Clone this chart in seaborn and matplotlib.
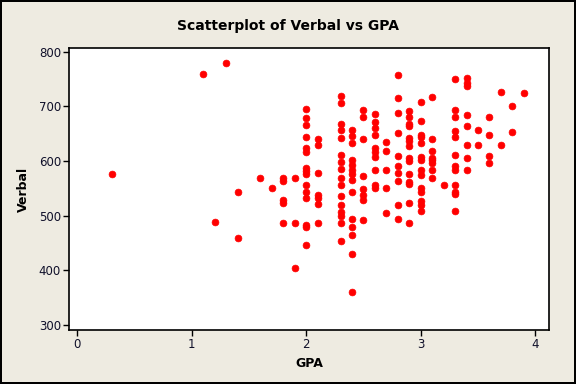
import matplotlib
matplotlib.use("Agg")
import matplotlib.pyplot as plt
import seaborn as sns
import pandas as pd

# GPA values, one list entry per student, grouped by GPA column
gpa = ([0.3, 1.1, 1.2, 1.3, 1.4, 1.4, 1.6, 1.7]
       + [1.8] * 5 + [1.9] * 3 + [2.0] * 15 + [2.1] * 7 + [2.3] * 16
       + [2.4] * 14 + [2.5] * 8 + [2.6] * 10 + [2.7] * 5 + [2.8] * 10
       + [2.9] * 14 + [3.0] * 14 + [3.1] * 8 + [3.2] + [3.3] * 12
       + [3.4] * 8 + [3.5] * 2 + [3.6] * 4 + [3.7] * 2 + [3.8] * 2 + [3.9])

verbal = ([576, 759, 488, 779, 544, 459, 569, 550]
          + [569, 564, 529, 524, 486]
          + [569, 486, 404]
          + [695, 678, 666, 643, 623, 616, 587, 582, 576, 556, 543, 532, 483, 480, 446]
          + [640, 629, 578, 538, 532, 522, 486]
          + [718, 706, 667, 656, 642, 611, 599, 585, 569, 556, 536, 520, 506, 500, 486, 453]
          + [657, 645, 633, 602, 593, 584, 576, 566, 543, 494, 480, 464, 430, 360]
          + [694, 680, 640, 572, 548, 538, 529, 492]
          + [686, 671, 660, 648, 623, 617, 608, 584, 556, 550]
          + [634, 619, 583, 550, 505]
          + [758, 715, 687, 651, 609, 591, 578, 564, 519, 494]
          + [692, 680, 668, 664, 642, 636, 628, 606, 600, 576, 562, 558, 523, 486]
          + [707, 673, 648, 643, 632, 608, 602, 584, 575, 550, 544, 526, 520, 508]
          + [717, 640, 618, 606, 602, 596, 584, 569]
          + [556]
          + [750, 693, 680, 654, 643, 611, 590, 584, 556, 544, 540, 508]
          + [751, 742, 738, 684, 664, 629, 605, 583]
          + [656, 629]
          + [680, 647, 610, 596]
          + [726, 629]
          + [700, 653]
          + [724])

x_ticks = [0, 1, 2, 3, 4]
y_ticks = [300, 400, 500, 600, 700, 800]

df = pd.DataFrame({"GPA": gpa, "Verbal": verbal})

sns.set_style("white")
bg = "#eeebe1"

fig = plt.figure(figsize=(5.76, 3.84), dpi=100)
fig.patch.set_facecolor(bg)
fig.patch.set_edgecolor("black")
fig.patch.set_linewidth(1.5)
ax = fig.add_axes([0.1203, 0.1406, 0.8327, 0.7336])
ax.set_facecolor("white")

sns.scatterplot(data=df, x="GPA", y="Verbal", ax=ax, color="#ff0000",
                s=24, edgecolor="#ff0000", linewidth=0.5, legend=False)

ax.set_xlim(-0.07, 4.12)
ax.set_ylim(291, 806)
ax.set_xticks(x_ticks)
ax.set_yticks(y_ticks)
for sp in ax.spines.values():
    sp.set_visible(True)
    sp.set_color("black")
    sp.set_linewidth(1.2)
ax.tick_params(axis="both", direction="out", length=4, width=1,
               color="black", labelsize=8.5, labelcolor="#10102a",
               bottom=True, left=True, pad=2)

ax.set_xlabel("GPA", fontsize=9, fontweight="bold", color="black", labelpad=4)
ax.set_ylabel("Verbal", fontsize=9, fontweight="bold", color="black", labelpad=6)
fig.suptitle("Scatterplot of Verbal vs GPA", fontsize=10, fontweight="bold",
             color="black", y=0.95)

fig.savefig("out.png", dpi=100, facecolor=bg, edgecolor="black")
